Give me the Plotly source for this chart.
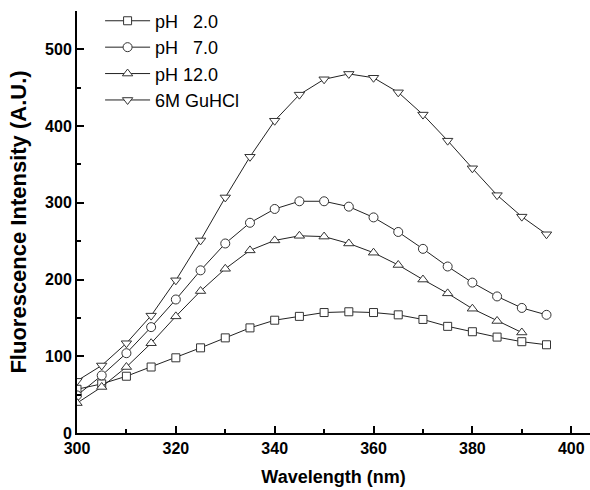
import plotly.graph_objects as go

wavelength = [300, 305, 310, 315, 320, 325, 330, 335, 340, 345,
              350, 355, 360, 365, 370, 375, 380, 385, 390, 395]
ph2 = [57, 64, 74, 86, 98, 111, 124, 137, 147, 152,
       157, 158, 157, 154, 148, 139, 132, 125, 119, 115]
ph7 = [49, 75, 104, 138, 174, 212, 247, 274, 292, 302,
       302, 295, 281, 262, 240, 217, 196, 178, 163, 154]
wavelength_ph12 = wavelength[:19]
ph12 = [39, 60, 86, 117, 152, 185, 214, 238, 251, 257,
        256, 247, 235, 219, 200, 182, 162, 146, 131]
guhcl = [68, 88, 117, 153, 199, 251, 307, 360, 407, 441,
         461, 468, 463, 444, 415, 381, 345, 310, 282, 259]

series = [
    ("pH\u2007\u00a02.0", wavelength, ph2, "square", 8),
    ("pH\u2007\u00a07.0", wavelength, ph7, "circle", 9),
    ("pH 12.0", wavelength_ph12, ph12, "triangle-up", 9),
    ("6M GuHCl", wavelength, guhcl, "triangle-down", 9),
]

FONT = "Liberation Sans, Arial, sans-serif"
fig = go.Figure()
for name, xs, ys, sym, msize in series:
    fig.add_trace(go.Scatter(
        x=xs, y=ys, name=name, mode="lines+markers",
        line=dict(color="#222222", width=1),
        marker=dict(symbol=sym, size=msize, color="white",
                    line=dict(color="#333333", width=1)),
    ))

axis_common = dict(
    showline=True, linecolor="black", linewidth=2,
    ticks="inside", ticklen=7, tickwidth=2, tickcolor="black",
    showgrid=False, zeroline=False, automargin=False,
    tickfont=dict(family=FONT, size=16, color="black", weight="bold"),
)

fig.update_layout(
    width=590, height=490,
    margin=dict(l=77, r=0, t=11, b=57, autoexpand=False),
    paper_bgcolor="white", plot_bgcolor="white",
    showlegend=True,
    legend=dict(
        x=0.045, y=1.02, xanchor="left", yanchor="top",
        bgcolor="rgba(0,0,0,0)", borderwidth=0,
        font=dict(family=FONT, size=18, color="black"),
        tracegroupgap=0, itemwidth=45,
    ),
    xaxis=dict(
        range=[300, 403.8], tick0=300, dtick=20,
        minor=dict(dtick=10, ticks="inside", ticklen=4, tickwidth=2, tickcolor="black"),
        title=dict(text="Wavelength (nm)", standoff=14,
                   font=dict(family=FONT, size=18, color="black", weight="bold")),
        **axis_common,
    ),
    yaxis=dict(
        range=[0, 550], tick0=0, dtick=100,
        minor=dict(dtick=50, ticks="inside", ticklen=4, tickwidth=2, tickcolor="black"),
        title=dict(text="Fluorescence Intensity (A.U.)", standoff=12,
                   font=dict(family=FONT, size=22, color="black", weight="bold")),
        **axis_common,
    ),
)

fig.write_html("out.html",
               config={"displayModeBar": False},
               post_script="document.body.style.margin='0';document.body.style.padding='0';")
